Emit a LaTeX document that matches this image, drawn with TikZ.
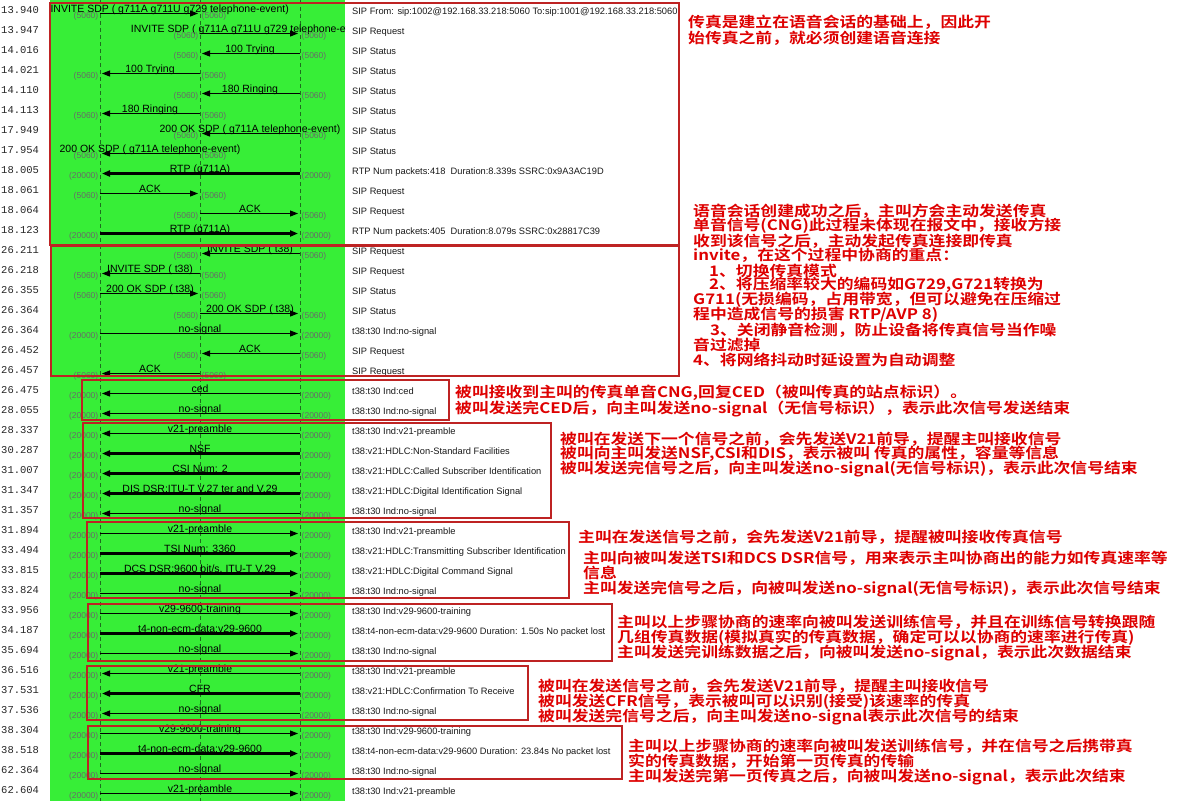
\documentclass[tikz,border=0pt]{standalone}
\usepackage{fontspec}
\usetikzlibrary{arrows.meta}
\newfontfamily\lblfam{Liberation Sans}
\newfontfamily\monofam{Liberation Mono}
\newfontfamily\anfam[FakeStretch=1.16]{Noto Sans CJK SC Bold}
\definecolor{bggreen}{RGB}{55,238,55}
\definecolor{lifeline}{RGB}{30,110,30}
\definecolor{portgray}{RGB}{105,105,105}
\definecolor{boxred}{RGB}{190,35,35}
\definecolor{annred}{RGB}{222,0,0}
\newcommand\lblfont{\lblfam\fontsize{10.5}{12}\selectfont}
\newcommand\portfont{\lblfam\fontsize{8.5}{10}\selectfont}
\newcommand\rtfont{\lblfam\fontsize{9.3}{11}\selectfont}
\newcommand\tsfont{\monofam\fontsize{10.5}{12}\selectfont}
\newcommand\anfont{\anfam\fontsize{14.5}{16}\selectfont}
\tikzset{
  thinarr/.style={line width=1pt, -{Triangle[length=8pt,width=6pt]}, shorten >=2pt},
  thickarr/.style={line width=2.2pt, -{Triangle[length=8pt,width=6pt]}, shorten >=2pt},
  lbl/.style={midway, anchor=base, yshift=1.5pt, inner sep=0pt, font=\lblfont, text=black},
  port/.style={inner sep=0pt, text=portgray, font=\portfont},
  lifestyle/.style={draw=lifeline, line width=0.8pt, dash pattern=on 4pt off 3pt},
  redbox/.style={draw=boxred, line width=1.3pt},
  ts/.style={anchor=base west, inner sep=0pt, font=\tsfont, text=black!85},
  rt/.style={anchor=base west, inner sep=0pt, font=\rtfont, text=black!90},
  ann/.style={anchor=west, inner sep=0pt, text=annred, font=\anfont}
}
% #1 extra label options, #2 arrow style, #3 row, #4 from column, #5 to column, #6 label, #7 port
\newcommand\flowmsg[7][]{%
  \draw[#2] (c#4r#3) -- node[lbl,#1] (m#3) {#6} (c#5r#3);
  \pgfmathtruncatemacro\flo{min(#4,#5)}%
  \pgfmathtruncatemacro\fhi{max(#4,#5)}%
  \node[port,anchor=east] (pl#3) at ([xshift=-1.5pt,yshift=-2.7pt]c\flo r#3) {(#7)};
  \node[port,anchor=west] (pr#3) at ([xshift=1.5pt,yshift=-2.7pt]c\fhi r#3) {(#7)};
}
\begin{document}
\begin{tikzpicture}[x=1pt,y=-1pt]
\useasboundingbox (0,0) rectangle (1177,801);
\fill[white] (0,0) rectangle (1177,801);
\fill[bggreen] (50,0) rectangle (345,801);
% lifelines
\foreach \c in {1,2,3} {
  \coordinate (life\c top) at (100*\c,0);
  \coordinate (life\c bot) at (100*\c,801);
  \draw[lifestyle] (life\c top) -- (life\c bot);
}
% row anchor coordinates
\foreach \i in {1,...,40} {
  \foreach \c in {1,2,3} {
    \coordinate (c\c r\i) at (100*\c, 13.5+20*\i-20);
  }
}
% timestamps
\foreach \i/\tx in {1/13.940,2/13.947,3/14.016,4/14.021,5/14.110,6/14.113,7/17.949,8/17.954,9/18.005,10/18.061,
  11/18.064,12/18.123,13/26.211,14/26.218,15/26.355,16/26.364,17/26.364,18/26.452,19/26.457,20/26.475,
  21/28.055,22/28.337,23/30.287,24/31.007,25/31.347,26/31.357,27/31.894,28/33.494,29/33.815,30/33.824,
  31/33.956,32/34.187,33/35.694,34/36.516,35/37.531,36/37.536,37/38.304,38/38.518,39/62.364,40/62.604} {
  \node[ts] (ts\i) at (1, 13.5+20*\i-20) {\tx};
}
% messages
\begin{scope}
\clip (50,0) rectangle (345,801);
\flowmsg[pos=0,anchor=base west,xshift=-50pt]{thinarr}{1}{1}{2}{INVITE SDP ( g711A g711U g729 telephone-event)}{5060}
\flowmsg{thinarr}{2}{2}{3}{INVITE SDP ( g711A g711U g729 telephone-event)}{5060}
\flowmsg{thinarr}{3}{3}{2}{100 Trying}{5060}
\flowmsg{thinarr}{4}{2}{1}{100 Trying}{5060}
\flowmsg{thinarr}{5}{3}{2}{180 Ringing}{5060}
\flowmsg{thinarr}{6}{2}{1}{180 Ringing}{5060}
\flowmsg{thinarr}{7}{3}{2}{200 OK SDP ( g711A telephone-event)}{5060}
\flowmsg{thinarr}{8}{2}{1}{200 OK SDP ( g711A telephone-event)}{5060}
\flowmsg{thickarr}{9}{3}{1}{RTP (g711A)}{20000}
\flowmsg{thinarr}{10}{1}{2}{ACK}{5060}
\flowmsg{thinarr}{11}{2}{3}{ACK}{5060}
\flowmsg{thickarr}{12}{1}{3}{RTP (g711A)}{20000}
\flowmsg{thinarr}{13}{3}{2}{INVITE SDP ( t38)}{5060}
\flowmsg{thinarr}{14}{2}{1}{INVITE SDP ( t38)}{5060}
\flowmsg{thinarr}{15}{1}{2}{200 OK SDP ( t38)}{5060}
\flowmsg{thinarr}{16}{2}{3}{200 OK SDP ( t38)}{5060}
\flowmsg{thinarr}{17}{1}{3}{no-signal}{20000}
\flowmsg{thinarr}{18}{3}{2}{ACK}{5060}
\flowmsg{thinarr}{19}{2}{1}{ACK}{5060}
\flowmsg{thinarr}{20}{3}{1}{ced}{20000}
\flowmsg{thinarr}{21}{3}{1}{no-signal}{20000}
\flowmsg{thinarr}{22}{3}{1}{v21-preamble}{20000}
\flowmsg{thickarr}{23}{3}{1}{NSF}{20000}
\flowmsg{thickarr}{24}{3}{1}{CSI Num: 2}{20000}
\flowmsg{thickarr}{25}{3}{1}{DIS DSR:ITU-T V.27 ter and V.29}{20000}
\flowmsg{thinarr}{26}{3}{1}{no-signal}{20000}
\flowmsg{thinarr}{27}{1}{3}{v21-preamble}{20000}
\flowmsg{thickarr}{28}{1}{3}{TSI Num: 3360}{20000}
\flowmsg{thickarr}{29}{1}{3}{DCS DSR:9600 bit/s, ITU-T V.29}{20000}
\flowmsg{thinarr}{30}{1}{3}{no-signal}{20000}
\flowmsg{thinarr}{31}{1}{3}{v29-9600-training}{20000}
\flowmsg{thickarr}{32}{1}{3}{t4-non-ecm-data:v29-9600}{20000}
\flowmsg{thinarr}{33}{1}{3}{no-signal}{20000}
\flowmsg{thinarr}{34}{3}{1}{v21-preamble}{20000}
\flowmsg{thickarr}{35}{3}{1}{CFR}{20000}
\flowmsg{thinarr}{36}{3}{1}{no-signal}{20000}
\flowmsg{thinarr}{37}{1}{3}{v29-9600-training}{20000}
\flowmsg{thickarr}{38}{1}{3}{t4-non-ecm-data:v29-9600}{20000}
\flowmsg{thinarr}{39}{1}{3}{no-signal}{20000}
\flowmsg{thinarr}{40}{1}{3}{v21-preamble}{20000}
\end{scope}
% comment column
\foreach \i/\tx in {
  1/{SIP From: sip:1002@192.168.33.218:5060 To:sip:1001@192.168.33.218:5060},
  2/{SIP Request},3/{SIP Status},4/{SIP Status},5/{SIP Status},6/{SIP Status},7/{SIP Status},8/{SIP Status},
  9/{RTP Num packets:418\ \ Duration:8.339s SSRC:0x9A3AC19D},
  10/{SIP Request},11/{SIP Request},
  12/{RTP Num packets:405\ \ Duration:8.079s SSRC:0x28817C39},
  13/{SIP Request},14/{SIP Request},15/{SIP Status},16/{SIP Status},
  17/{t38:t30 Ind:no-signal},18/{SIP Request},19/{SIP Request},
  20/{t38:t30 Ind:ced},21/{t38:t30 Ind:no-signal},22/{t38:t30 Ind:v21-preamble},
  23/{t38:v21:HDLC:Non-Standard Facilities},24/{t38:v21:HDLC:Called Subscriber Identification},
  25/{t38:v21:HDLC:Digital Identification Signal},26/{t38:t30 Ind:no-signal},
  27/{t38:t30 Ind:v21-preamble},28/{t38:v21:HDLC:Transmitting Subscriber Identification},
  29/{t38:v21:HDLC:Digital Command Signal},30/{t38:t30 Ind:no-signal},
  31/{t38:t30 Ind:v29-9600-training},32/{t38:t4-non-ecm-data:v29-9600 Duration: 1.50s No packet lost},
  33/{t38:t30 Ind:no-signal},34/{t38:t30 Ind:v21-preamble},35/{t38:v21:HDLC:Confirmation To Receive},
  36/{t38:t30 Ind:no-signal},37/{t38:t30 Ind:v29-9600-training},
  38/{t38:t4-non-ecm-data:v29-9600 Duration: 23.84s No packet lost},
  39/{t38:t30 Ind:no-signal},40/{t38:t30 Ind:v21-preamble}} {
  \node[rt] (rt\i) at (352, 14+20*\i-20) {\tx};
}
% group boxes
\draw[redbox] (50,3) rectangle (679,245);
\draw[redbox] (51,246) rectangle (679,376);
\draw[redbox] (82,380) rectangle (449,420);
\draw[redbox] (83,423) rectangle (551,518);
\draw[redbox] (87,522) rectangle (569,598);
\draw[redbox] (88,604) rectangle (612,661);
\draw[redbox] (87,666) rectangle (528,720);
\draw[redbox] (88,726) rectangle (622,779);
% annotations
\node[ann] (a1a) at (688,22) {传真是建立在语音会话的基础上，因此开};
\node[ann] (a1b) at (688,38) {始传真之前，就必须创建语音连接};
\node[ann] (a2a) at (693,211) {语音会话创建成功之后，主叫方会主动发送传真};
\node[ann] (a2b) at (693,226) {单音信号(CNG)此过程未体现在报文中，接收方接};
\node[ann] (a2c) at (693,241) {收到该信号之后，主动发起传真连接即传真};
\node[ann] (a2d) at (693,255.5) {invite，在这个过程中协商的重点：};
\node[ann] (a2e) at (709,270.5) {1、切换传真模式};
\node[ann] (a2f) at (709,285) {2、将压缩率较大的编码如G729,G721转换为};
\node[ann] (a2g) at (693,300) {G711(无损编码，占用带宽，但可以避免在压缩过};
\node[ann] (a2h) at (693,315) {程中造成信号的损害 RTP/AVP 8)};
\node[ann] (a2i) at (710,330) {3、关闭静音检测，防止设备将传真信号当作噪};
\node[ann] (a2j) at (693,345) {音过滤掉};
\node[ann] (a2k) at (693,360) {4、将网络抖动时延设置为自动调整};
\node[ann] (a3a) at (455,393) {被叫接收到主叫的传真单音CNG,回复CED（被叫传真的站点标识）。};
\node[ann] (a3b) at (455,409) {被叫发送完CED后，向主叫发送no-signal（无信号标识），表示此次信号发送结束};
\node[ann] (a4a) at (560,439) {被叫在发送下一个信号之前，会先发送V21前导，提醒主叫接收信号};
\node[ann] (a4b) at (560,454) {被叫向主叫发送NSF,CSI和DIS，表示被叫 传真的属性，容量等信息};
\node[ann] (a4c) at (560,469) {被叫发送完信号之后，向主叫发送no-signal(无信号标识)，表示此次信号结束};
\node[ann] (a5a) at (578,537) {主叫在发送信号之前，会先发送V21前导，提醒被叫接收传真信号};
\node[ann] (a5b) at (583,558) {主叫向被叫发送TSI和DCS DSR信号，用来表示主叫协商出的能力如传真速率等};
\node[ann] (a5c) at (583,573) {信息};
\node[ann] (a5d) at (583,589) {主叫发送完信号之后，向被叫发送no-signal(无信号标识)，表示此次信号结束};
\node[ann] (a6a) at (617,622) {主叫以上步骤协商的速率向被叫发送训练信号，并且在训练信号转换跟随};
\node[ann] (a6b) at (617,638) {几组传真数据(模拟真实的传真数据，确定可以以协商的速率进行传真)};
\node[ann] (a6c) at (617,653) {主叫发送完训练数据之后，向被叫发送no-signal，表示此次数据结束};
\node[ann] (a7a) at (538,686) {被叫在发送信号之前，会先发送V21前导，提醒主叫接收信号};
\node[ann] (a7b) at (538,702) {被叫发送CFR信号，表示被叫可以识别(接受)该速率的传真};
\node[ann] (a7c) at (538,717) {被叫发送完信号之后，向主叫发送no-signal表示此次信号的结束};
\node[ann] (a8a) at (628,746) {主叫以上步骤协商的速率向被叫发送训练信号，并在信号之后携带真};
\node[ann] (a8b) at (628,761) {实的传真数据，开始第一页传真的传输};
\node[ann] (a8c) at (628,777) {主叫发送完第一页传真之后，向被叫发送no-signal，表示此次结束};
\end{tikzpicture}
\end{document}
